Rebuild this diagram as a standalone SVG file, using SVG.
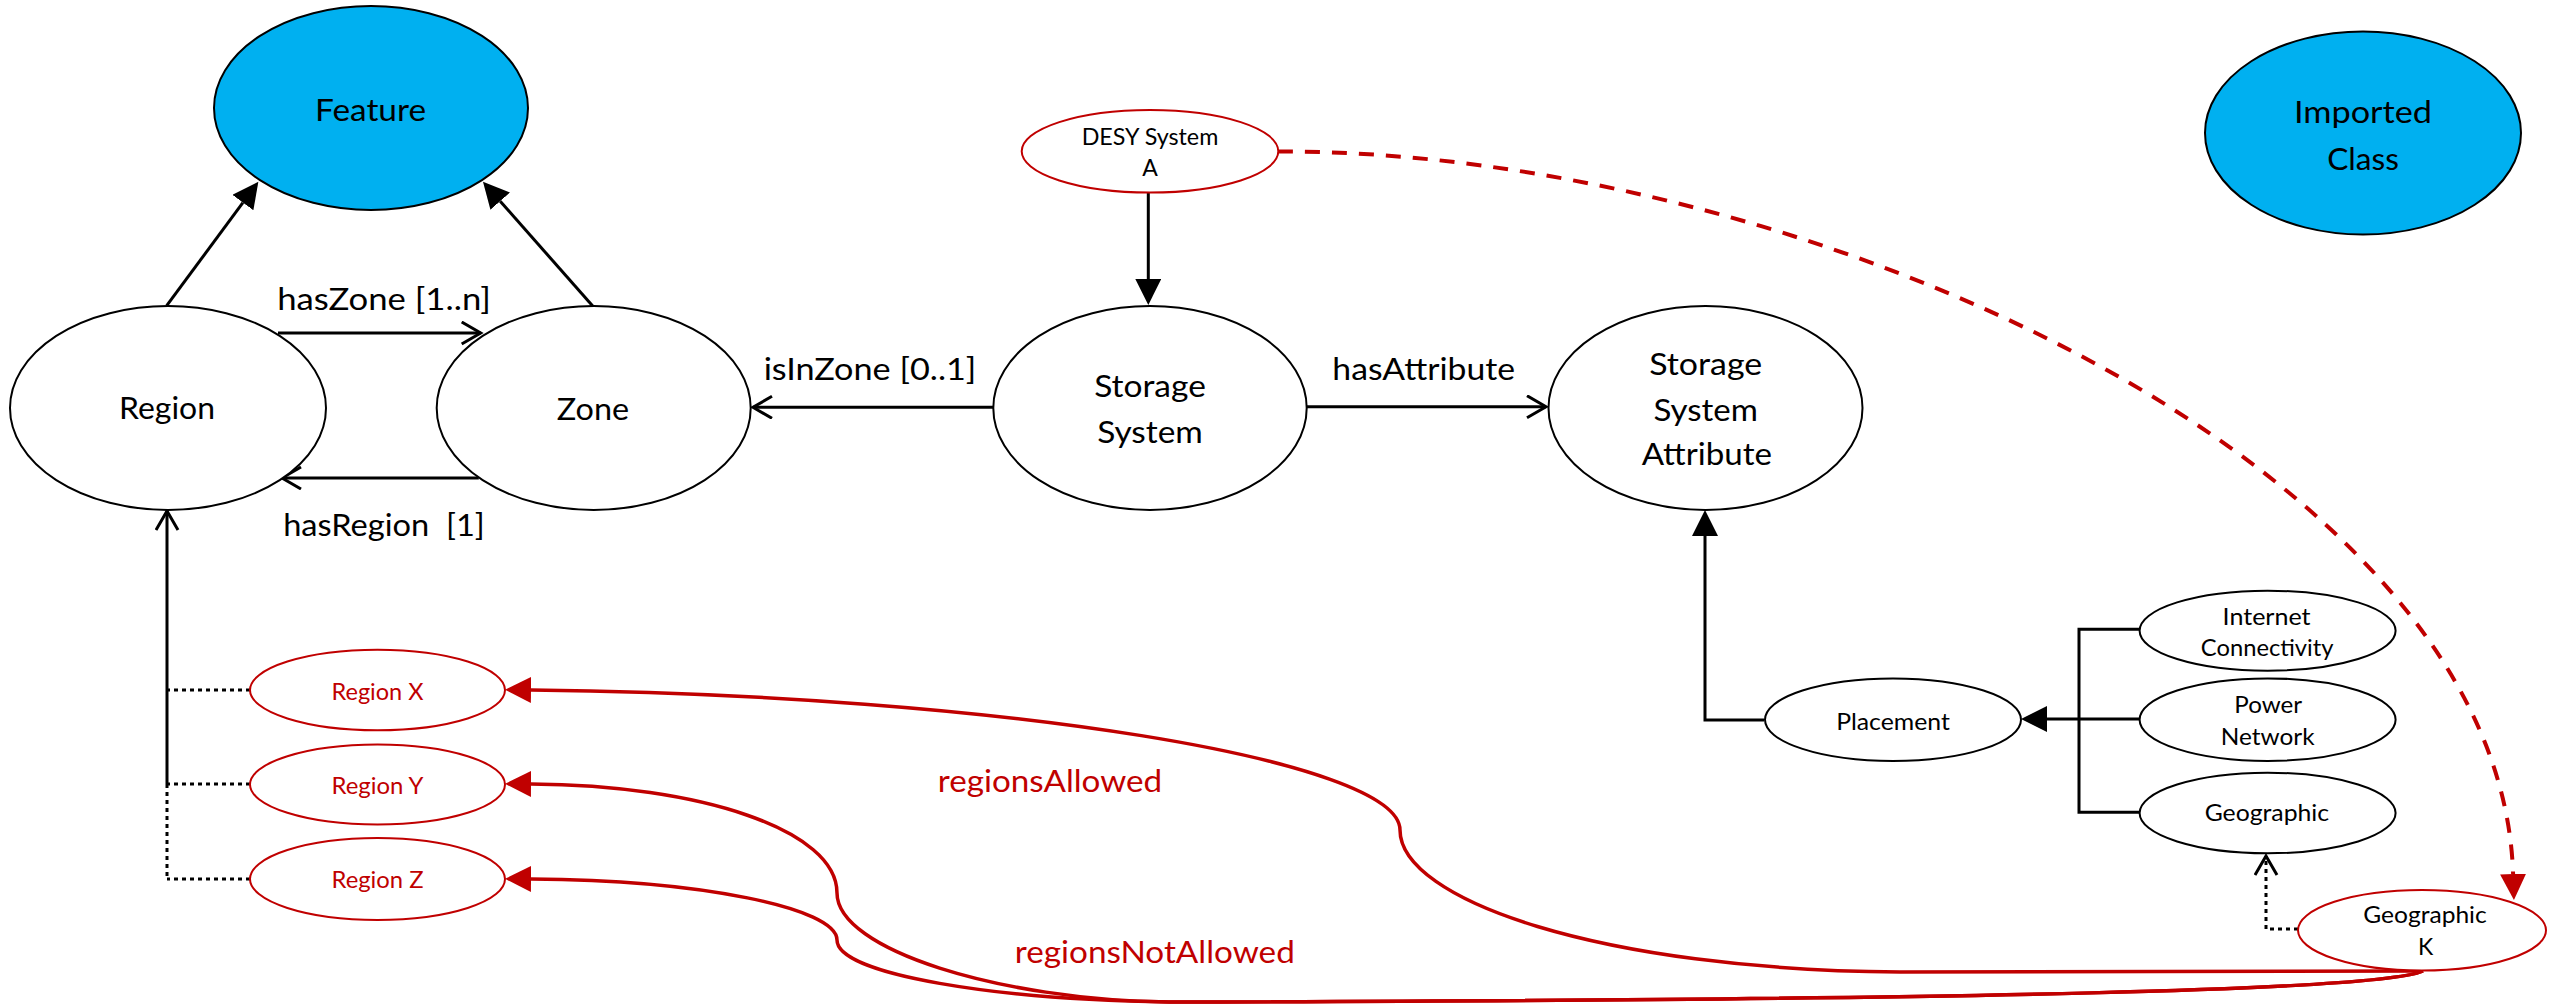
<svg xmlns="http://www.w3.org/2000/svg" width="2549" height="1007" viewBox="0 0 2549 1007">
  <style>
    .node { fill: #ffffff; stroke: #000000; stroke-width: 2; }
    .cls { fill: #00B0F0; stroke: #000000; stroke-width: 2; }
    .inst { fill: #ffffff; stroke: #C00000; stroke-width: 2; }
    text { font-family: Lato, "Liberation Sans", sans-serif; text-anchor: middle; fill: #000000; }
    .big { font-size: 31px; }
    .small { font-size: 23px; }
    .red { fill: #C00000; }
    .ln { fill: none; stroke: #000000; stroke-width: 3; }
    .dot { fill: none; stroke: #000000; stroke-width: 3; stroke-dasharray: 4 4; }
    .rel { fill: none; stroke: #C00000; stroke-width: 3.5; }
    .dash { fill: none; stroke: #C00000; stroke-width: 4; stroke-dasharray: 15 12; }
  </style>
  <defs>
    <!-- filled heads: drawn beyond the end point of the path -->
    <marker id="headBlack" markerUnits="userSpaceOnUse" markerWidth="28" markerHeight="28" refX="0" refY="13" orient="auto">
      <path d="M0,0 L26,13 L0,26 Z" fill="#000000"/>
    </marker>
    <marker id="headRed" markerUnits="userSpaceOnUse" markerWidth="28" markerHeight="28" refX="0" refY="13" orient="auto">
      <path d="M0,0 L26,13 L0,26 Z" fill="#C00000"/>
    </marker>
    <!-- open V head: tip sits on the end point of the path -->
    <marker id="openBlack" markerUnits="userSpaceOnUse" markerWidth="26" markerHeight="28" refX="21" refY="12" orient="auto">
      <path d="M2,1 L21,12 L2,23" fill="none" stroke="#000000" stroke-width="3"/>
    </marker>
  </defs>

  <!-- connectors -->
  <g id="connectors">
    <path class="ln" d="M166.7,305.7 L242.9,202.6" marker-end="url(#headBlack)"/>
    <path class="ln" d="M592.7,306 L500.2,201.2" marker-end="url(#headBlack)"/>
    <path class="ln" d="M278,333 L480.7,333" marker-end="url(#openBlack)"/>
    <path class="ln" d="M478.8,478 L282,478" marker-end="url(#openBlack)"/>
    <path class="ln" d="M993.3,407.3 L753,407.3" marker-end="url(#openBlack)"/>
    <path class="ln" d="M1306.7,406.7 L1546,406.7" marker-end="url(#openBlack)"/>
    <path class="ln" d="M1148.3,192.7 L1148.3,279" marker-end="url(#headBlack)"/>
    <path class="ln" d="M167,784 L167,511" marker-end="url(#openBlack)"/>
    <path class="dot" d="M167,784 L167,879"/>
    <path class="dot" d="M250,690 L167,690"/>
    <path class="dot" d="M250,784 L167,784"/>
    <path class="dot" d="M250,879 L167,879"/>
    <path class="ln" stroke-width="4" d="M1764,720 L1705,720 L1705,536" marker-end="url(#headBlack)"/>
    <path class="ln" stroke-width="4" d="M2140,629.3 L2079,629.3 L2079,812.3 L2140,812.3"/>
    <path class="ln" stroke-width="4" d="M2140,719 L2079,719"/>
    <path class="ln" stroke-width="7" d="M2080,719 L2047,719" marker-end="url(#headBlack)"/>
    <path class="dot" d="M2298,929 L2266,929 L2266,856" marker-end="url(#openBlack)"/>
    <path class="dash" d="M1278,151.5 C1800,150 2500,465 2513.1,874" marker-end="url(#headRed)"/>
    <path class="rel" d="M2423,971 L1900,972 C1600,970 1400,900 1400,830 C1400,760 1000,695 531,690" marker-end="url(#headRed)"/>
    <path class="rel" d="M2423,971 C2380,990 2000,1000 1169,1002 C1000,1000 837,950 837,893 C837,830 700,785 531,784" marker-end="url(#headRed)"/>
    <path class="rel" d="M2423,971 C2380,990 2000,1000 1169,1002 C1000,1000 837,975 837,940 C837,908 700,880 531,879" marker-end="url(#headRed)"/>
    <text class="big red" x="1050" y="791.7" font-size="30" textLength="224.4" lengthAdjust="spacingAndGlyphs">regionsAllowed</text>
    <text class="big red" x="1154.8" y="963.3" font-size="30" textLength="280" lengthAdjust="spacingAndGlyphs">regionsNotAllowed</text>
    <text class="big" x="384" y="310" textLength="213.7" lengthAdjust="spacingAndGlyphs">hasZone [1..n]</text>
    <text class="big" x="384" y="535.5" xml:space="preserve" textLength="201.7" lengthAdjust="spacingAndGlyphs">hasRegion  [1]</text>
    <text class="big" x="870" y="380" textLength="212.7" lengthAdjust="spacingAndGlyphs">isInZone [0..1]</text>
    <text class="big" x="1423.7" y="380" textLength="182.7" lengthAdjust="spacingAndGlyphs">hasAttribute</text>
  </g>

  <!-- class nodes -->
  <g id="feature">
    <ellipse class="cls" cx="371" cy="108" rx="157" ry="102"/>
    <text class="big" x="370.5" y="120.7" textLength="111" lengthAdjust="spacingAndGlyphs">Feature</text>
  </g>
  <g id="imported-class">
    <ellipse class="cls" cx="2363" cy="133" rx="158" ry="101.5"/>
    <text class="big" x="2363" y="123.3" font-size="32" textLength="138" lengthAdjust="spacingAndGlyphs">Imported</text>
    <text class="big" x="2363" y="170" font-size="32" textLength="71.7" lengthAdjust="spacingAndGlyphs">Class</text>
  </g>
  <g id="region">
    <ellipse class="node" cx="168" cy="408" rx="158" ry="102"/>
    <text class="big" x="167" y="419.3" textLength="96" lengthAdjust="spacingAndGlyphs">Region</text>
  </g>
  <g id="zone">
    <ellipse class="node" cx="593.7" cy="408" rx="157" ry="102"/>
    <text class="big" x="593" y="420" textLength="72.3" lengthAdjust="spacingAndGlyphs">Zone</text>
  </g>
  <g id="storage-system">
    <ellipse class="node" cx="1150" cy="408" rx="156.7" ry="102"/>
    <text class="big" x="1150" y="396.7" textLength="111.7" lengthAdjust="spacingAndGlyphs">Storage</text>
    <text class="big" x="1150" y="443.3" textLength="105.7" lengthAdjust="spacingAndGlyphs">System</text>
  </g>
  <g id="storage-system-attribute">
    <ellipse class="node" cx="1705.5" cy="408" rx="157" ry="102"/>
    <text class="big" x="1705.7" y="375" textLength="113" lengthAdjust="spacingAndGlyphs">Storage</text>
    <text class="big" x="1705.7" y="420.7" textLength="104.5" lengthAdjust="spacingAndGlyphs">System</text>
    <text class="big" x="1706.8" y="465" textLength="130.3" lengthAdjust="spacingAndGlyphs">Attribute</text>
  </g>
  <g id="placement">
    <ellipse class="node" cx="1893" cy="719.7" rx="128" ry="41.3"/>
    <text class="small" x="1893" y="730" textLength="113.7" lengthAdjust="spacingAndGlyphs">Placement</text>
  </g>
  <g id="internet-connectivity">
    <ellipse class="node" cx="2267.6" cy="630.7" rx="128" ry="40"/>
    <text class="small" x="2266.6" y="625" textLength="88" lengthAdjust="spacingAndGlyphs">Internet</text>
    <text class="small" x="2267.2" y="656" textLength="132.7" lengthAdjust="spacingAndGlyphs">Connectivity</text>
  </g>
  <g id="power-network">
    <ellipse class="node" cx="2267.6" cy="719.7" rx="128" ry="41.3"/>
    <text class="small" x="2268.2" y="713.3" textLength="67.7" lengthAdjust="spacingAndGlyphs">Power</text>
    <text class="small" x="2267.7" y="745" textLength="93.7" lengthAdjust="spacingAndGlyphs">Network</text>
  </g>
  <g id="geographic">
    <ellipse class="node" cx="2267.6" cy="813" rx="128" ry="40.3"/>
    <text class="small" x="2266.9" y="821" textLength="124.5" lengthAdjust="spacingAndGlyphs">Geographic</text>
  </g>

  <!-- instance nodes -->
  <g id="desy-system-a">
    <ellipse class="inst" cx="1150" cy="151.3" rx="128.3" ry="41.3"/>
    <text class="small" x="1150" y="145" textLength="136.7" lengthAdjust="spacingAndGlyphs">DESY System</text>
    <text class="small" x="1150" y="176">A</text>
  </g>
  <g id="region-x">
    <ellipse class="inst" cx="377.5" cy="690" rx="127.5" ry="40.3"/>
    <text class="small red" x="377.5" y="700" textLength="92" lengthAdjust="spacingAndGlyphs">Region X</text>
  </g>
  <g id="region-y">
    <ellipse class="inst" cx="377.5" cy="784.5" rx="127.5" ry="40"/>
    <text class="small red" x="377.5" y="794.3" textLength="92" lengthAdjust="spacingAndGlyphs">Region Y</text>
  </g>
  <g id="region-z">
    <ellipse class="inst" cx="377.5" cy="879" rx="127.5" ry="41"/>
    <text class="small red" x="377.5" y="888.4" textLength="92" lengthAdjust="spacingAndGlyphs">Region Z</text>
  </g>
  <g id="geographic-k">
    <ellipse class="inst" cx="2422" cy="930.3" rx="124" ry="40.3"/>
    <text class="small" x="2425" y="923.3" textLength="123.5" lengthAdjust="spacingAndGlyphs">Geographic</text>
    <text class="small" x="2425.5" y="955">K</text>
  </g>
</svg>
